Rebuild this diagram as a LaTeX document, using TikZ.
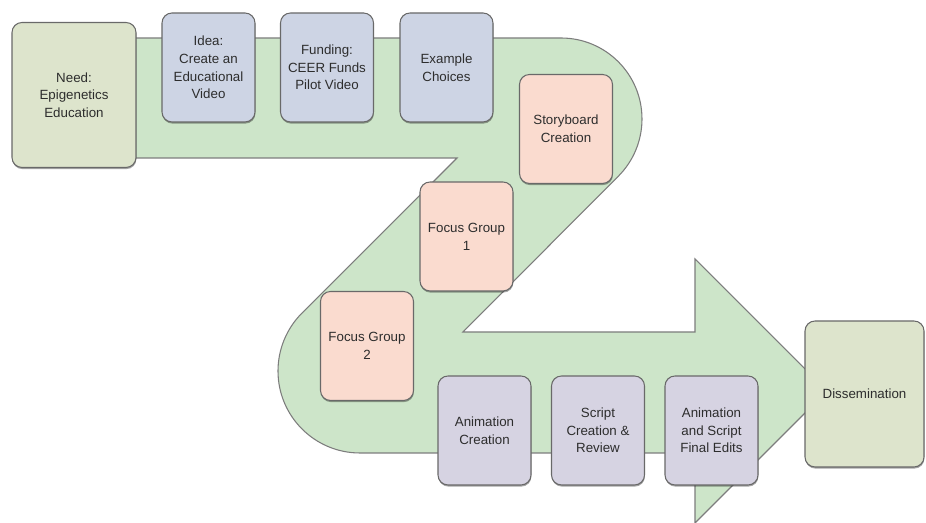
\documentclass[tikz,border=0pt]{standalone}
\usepackage{fontspec}
\setmainfont{Liberation Sans}
\usetikzlibrary{shadows}

\definecolor{bandfill}{RGB}{205,229,201}
\definecolor{bandline}{RGB}{125,125,125}
\definecolor{boxline}{RGB}{105,105,105}
\definecolor{sagefill}{RGB}{221,228,204}
\definecolor{bluefill}{RGB}{205,212,228}
\definecolor{peachfill}{RGB}{250,219,207}
\definecolor{lilacfill}{RGB}{214,211,226}
\definecolor{txt}{RGB}{45,45,45}

\begin{document}
\begin{tikzpicture}[x=0.75pt,y=-0.75pt,
  band/.style={fill=bandfill,draw=bandline,line width=0.8pt,line join=miter},
  stepbox/.style={draw=boxline,line width=0.8pt,rounded corners=7.5pt,
    align=center,inner sep=0pt,text=txt,
    font=\fontsize{10}{13.3}\selectfont,
    minimum width=69.75pt,minimum height=81.75pt,
    drop shadow={shadow xshift=0.3pt,shadow yshift=-1.2pt,opacity=0.35,fill=black}},
  endbox/.style={stepbox,fill=sagefill,minimum width=93pt,minimum height=108.75pt},
  planbox/.style={stepbox,fill=bluefill},
  reviewbox/.style={stepbox,fill=peachfill},
  makebox/.style={stepbox,fill=lilacfill}]

\path[use as bounding box] (0,0) rectangle (926,523);

% the Z-shaped arrow that carries the process
\draw[band] (100,38) -- (561,38)
  arc[start angle=-90,end angle=45,radius=81]
  -- (463,332) -- (695,332) -- (695,259) -- (827,391) -- (695,523)
  -- (695,453) -- (360,453)
  arc[start angle=90,end angle=225,radius=82]
  -- (457,158) -- (100,158) -- cycle;

% process steps
\node[endbox] (need) at (74,95) {Need:\\Epigenetics\\Education};
\node[planbox] (idea) at (208.5,67.5) {Idea:\\Create an\\Educational\\Video};
\node[planbox] (funding) at (327,67.5) {Funding:\\CEER Funds\\Pilot Video};
\node[planbox] (examples) at (446.5,67.5) {Example\\Choices};
\node[reviewbox] (storyboard) at (566,129) {Storyboard\\Creation};
\node[reviewbox] (focusone) at (466.5,236.5) {Focus Group\\1};
\node[reviewbox] (focustwo) at (367,346) {Focus Group\\2};
\node[makebox] (animation) at (484.5,430.5) {Animation\\Creation};
\node[makebox] (script) at (598,430.5) {Script\\Creation \&\\Review};
\node[makebox] (final) at (711.5,430.5) {Animation\\and Script\\Final Edits};
\node[endbox,minimum width=89.25pt,minimum height=109.5pt] (dissemination) at (864.5,394) {Dissemination};

\end{tikzpicture}
\end{document}
